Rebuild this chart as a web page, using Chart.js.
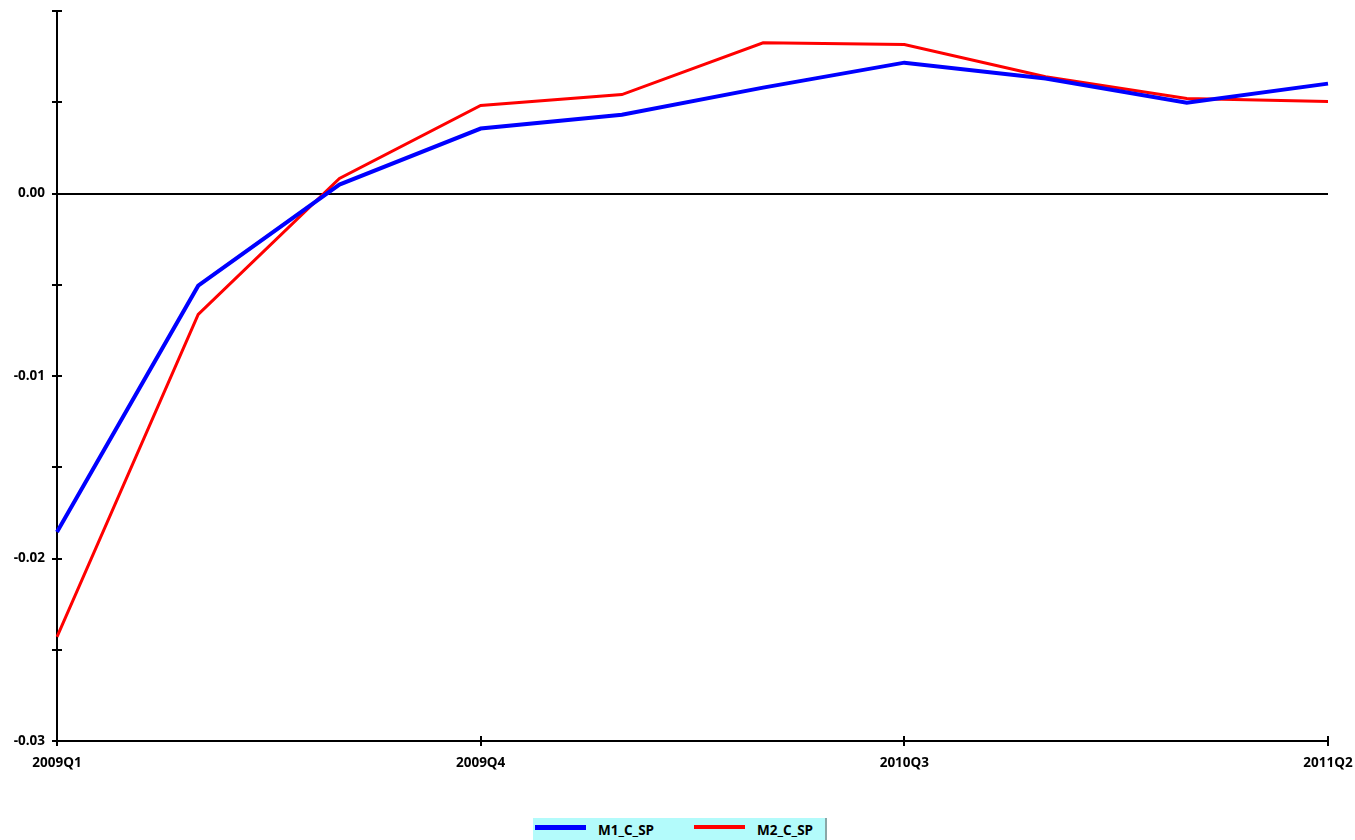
<!DOCTYPE html>
<html>
<head>
<meta charset="utf-8">
<script src="https://cdn.jsdelivr.net/npm/chart.js@4/dist/chart.umd.min.js"></script>
<style>
  html, body { margin: 0; padding: 0; background: #ffffff; }
  #wrap { position: relative; width: 1355px; height: 840px; overflow: hidden; }
  #c { position: absolute; left: 0; top: 0; }
  #legend {
    position: absolute; left: 533px; top: 818px; width: 292px; height: 26px;
    background: #b3fbfb; border-right: 2px solid #8aa6a6;
    font-family: "Open Sans", sans-serif; font-size: 13.5px; font-weight: bold; color: #000;
  }
  .item { position: absolute; top: 3px; height: 18px; line-height: 18px; }
  .swatch { position: absolute; top: 7px; width: 51px; }
</style>
</head>
<body>
<div id="wrap">
  <canvas id="c" width="1355" height="840"></canvas>
  <div id="legend"></div>
</div>
<script>
const categories = ["2009Q1","2009Q2","2009Q3","2009Q4","2010Q1","2010Q2","2010Q3","2010Q4","2011Q1","2011Q2"];
const m1Values = [-0.01855, -0.00505, 0.00049, 0.00356, 0.00432, 0.0058, 0.00717, 0.0063, 0.00498, 0.00602];
const m2Values = [-0.0243, -0.00662, 0.00082, 0.00482, 0.00542, 0.00826, 0.00816, 0.0064, 0.0052, 0.00504];
const seriesNames = ["M1_C_SP", "M2_C_SP"];
const seriesColors = ["#0000ff", "#ff0000"];
const seriesWidths = [4, 3];
const yMin = -0.03, yMax = 0.01, yStep = 0.005;
const labelEvery = 3;

const FONT = { family: "Open Sans", size: 13.5, weight: 'bold' };

const tickPlugin = {
  id: 'crossTicks',
  afterDraw(chart) {
    const ctx = chart.ctx;
    const xs = chart.scales.x, ys = chart.scales.y;
    ctx.save();
    ctx.strokeStyle = '#000';
    ctx.lineWidth = 2;
    ys.ticks.forEach(t => {
      const py = Math.round(ys.getPixelForValue(t.value));
      ctx.beginPath();
      ctx.moveTo(xs.left - 5, py);
      ctx.lineTo(xs.left + 5, py);
      ctx.stroke();
    });
    categories.forEach((c, i) => {
      if (i % labelEvery !== 0) return;
      const px = Math.round(xs.getPixelForValue(i));
      ctx.beginPath();
      ctx.moveTo(px, ys.bottom - 5);
      ctx.lineTo(px, ys.bottom + 5);
      ctx.stroke();
    });
    ctx.restore();
  }
};

new Chart(document.getElementById('c'), {
  type: 'line',
  data: {
    labels: categories,
    datasets: [
      { label: seriesNames[0], data: m1Values, borderColor: seriesColors[0], borderWidth: seriesWidths[0], pointRadius: 0, tension: 0, fill: false },
      { label: seriesNames[1], data: m2Values, borderColor: seriesColors[1], borderWidth: seriesWidths[1], pointRadius: 0, tension: 0, fill: false }
    ]
  },
  options: {
    responsive: false,
    animation: false,
    layout: { padding: { top: 11, right: 27, left: 0, bottom: 0 } },
    plugins: { legend: { display: false }, tooltip: { enabled: false } },
    scales: {
      x: {
        offset: false,
        border: { display: true, color: '#000', width: 2 },
        grid: { display: false, drawTicks: false },
        ticks: {
          autoSkip: false, maxRotation: 0, minRotation: 0, padding: 14,
          color: '#000', font: FONT,
          callback: (v, i) => (i % labelEvery === 0 ? categories[i] : '')
        },
        afterFit: s => { s.height = 99; s.paddingLeft = 0; s.paddingRight = 0; }
      },
      y: {
        min: yMin, max: yMax,
        border: { display: true, color: '#000', width: 2 },
        grid: {
          drawTicks: false, tickLength: 0, lineWidth: 2,
          color: ctx => (ctx.tick && Math.abs(ctx.tick.value) < 1e-12 ? '#000' : 'rgba(0,0,0,0)')
        },
        ticks: {
          stepSize: yStep, padding: 12, color: '#000', font: FONT,
          callback: v => {
            const r = Math.round(v / 0.01) * 0.01;
            if (Math.abs(v - r) > 1e-9 || v > yMax - 1e-9) return '';
            return (Math.abs(r) < 1e-12 ? 0 : r).toFixed(2);
          }
        },
        afterFit: s => { s.width = 57; s.paddingTop = 0; s.paddingBottom = 0; }
      }
    }
  },
  plugins: [tickPlugin]
});

const legend = document.getElementById('legend');
const swatchLeft = [2, 161], textLeft = [65, 224];
seriesNames.forEach((n, i) => {
  const sw = document.createElement('div');
  sw.className = 'swatch';
  sw.style.left = swatchLeft[i] + 'px';
  sw.style.height = (i === 0 ? 5 : 4) + 'px';
  sw.style.background = seriesColors[i];
  legend.appendChild(sw);
  const t = document.createElement('div');
  t.className = 'item';
  t.style.left = textLeft[i] + 'px';
  t.textContent = n;
  legend.appendChild(t);
});
</script>
</body>
</html>
